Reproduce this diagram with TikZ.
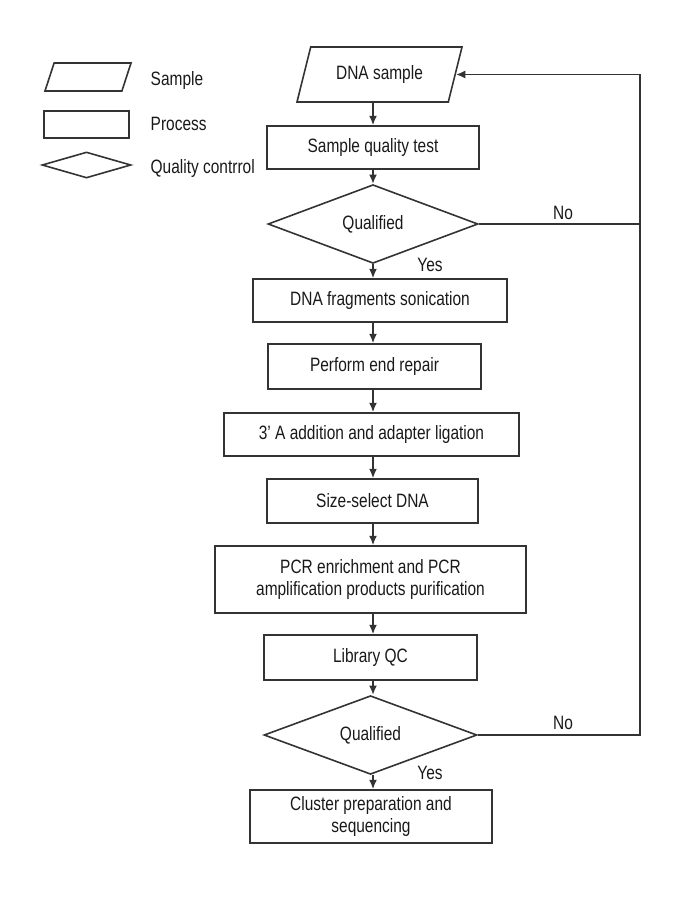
\documentclass[tikz,border=0pt]{standalone}
\usepackage{fontspec}
\setmainfont[FakeStretch=0.8]{Liberation Sans}
\usetikzlibrary{shapes.geometric,arrows.meta}
\definecolor{ln}{HTML}{333333}
\tikzset{
    proc/.style={rectangle,draw=ln,line width=1.2pt,inner sep=0,align=center},
    qc/.style={diamond,draw=ln,line width=1.2pt,inner sep=0},
    io/.style={trapezium,trapezium left angle=76,trapezium right angle=104,trapezium stretches body,draw=ln,line width=1.2pt,inner xsep=0,text height=10pt,text depth=3pt},
    arr/.style={draw=ln,line width=1.2pt,-{Latex[length=7pt,width=6pt]}}
}

\begin{document}
\begin{tikzpicture}[x=0.75pt,y=-0.75pt,font=\fontsize{14.5}{16.5}\selectfont,text=black!90]
    \useasboundingbox (0,0) rectangle (680,900);
    % legend
    \node[io,trapezium left angle=72,trapezium right angle=108,text height=0pt,text depth=0pt,inner ysep=10.5pt,minimum width=64.5pt] (keyio) at (88,77) {};
    \node[proc,minimum width=63.75pt,minimum height=20.25pt] (keyproc) at (86.5,124.5) {};
    \node[qc,minimum width=66.75pt,minimum height=19.5pt] (keyqc) at (86.5,165) {};
    \node[anchor=west] (keysample) at (146,80) {Sample};
    \node[anchor=west] (keyprocess) at (146,124) {Process};
    \node[anchor=west] (keyquality) at (146,168) {Quality contrrol};

    % main flow
    \node[io,inner ysep=14.1pt,minimum width=123.75pt] (sample) at (379.5,74.5) {DNA sample};
    \node[proc,minimum width=159pt,minimum height=32.25pt] (test) at (373,147.5) {Sample quality test};
    \node[qc,minimum width=157.5pt,minimum height=46.5pt] (qc1) at (373,224) {Qualified};
    \node[proc,minimum width=190.5pt,minimum height=32.25pt] (frag) at (380,300.5) {DNA fragments sonication};
    \node[proc,minimum width=159.75pt,minimum height=33.75pt] (repair) at (374.5,366.5) {Perform end repair};
    \node[proc,minimum width=221.25pt,minimum height=32.25pt] (ligate) at (371.5,434.5) {3’ A addition and adapter ligation};
    \node[proc,minimum width=158.25pt,minimum height=33pt] (select) at (372.5,501) {Size-select DNA};
    \node[proc,minimum width=233.25pt,minimum height=50.25pt] (pcr) at (370.5,579.5) {PCR enrichment and PCR\\amplification products purification};
    \node[proc,minimum width=159.75pt,minimum height=33.75pt] (libqc) at (370.5,657.5) {Library QC};
    \node[qc,minimum width=159.75pt,minimum height=46.5pt] (qc2) at (370.5,735) {Qualified};
    \node[proc,minimum width=181.5pt,minimum height=39.75pt] (cluster) at (371,816.5) {Cluster preparation and\\sequencing};

    \node (no1) at (563,213) {No};
    \node (yes1) at (430,265) {Yes};
    \node (no2) at (563,723) {No};
    \node (yes2) at (430,773) {Yes};

    % connectors
    \coordinate (col) at (373,0);
    \coordinate (back) at (640,0);
    \foreach \a/\b in {sample/test,test/qc1,qc1/frag,frag/repair,repair/ligate,ligate/select,select/pcr,pcr/libqc,libqc/qc2,qc2/cluster}
        \draw[arr] (col |- \a.south) -- (col |- \b.north);
    \draw[arr] (qc2.east) -- (back |- qc2.east) -- (back |- sample.east) -- (sample.east);
    \draw[draw=ln,line width=1.2pt] (qc1.east) -- (back |- qc1.east);
\end{tikzpicture}
\end{document}
